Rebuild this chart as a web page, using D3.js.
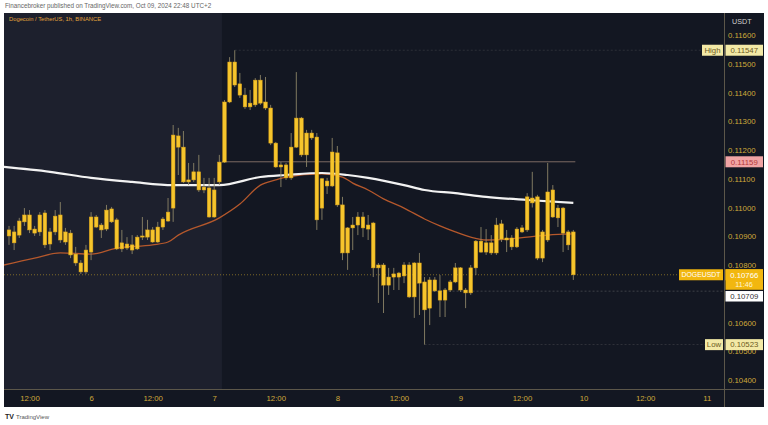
<!DOCTYPE html>
<html><head><meta charset="utf-8">
<script src="https://cdn.jsdelivr.net/npm/d3@7"></script>
<style>
html,body{margin:0;padding:0;background:#fff;}
svg{display:block;font-family:"Liberation Sans",Arial,sans-serif;}
</style></head><body>
<svg id="c" width="768" height="425"></svg>
<script>
// ---------- DATA ----------
const startTime = "2024-10-05T08:00"; // first hourly candle (UTC+2)
const openP = [0.10901,0.10915,0.10904,0.10950,0.10974,0.10925,0.10915,0.10981,0.10873,0.10915,
0.10974,0.10880,0.10911,0.10838,0.10807,0.10776,0.10845,0.10967,0.10939,0.10925,
0.10995,0.10957,0.10856,0.10873,0.10870,0.10856,0.10897,0.10897,0.10922,0.10880,
0.10932,0.10953,0.10998,0.11249,0.11210,0.11096,0.11096,0.11124,0.11061,0.11068,
0.10967,0.11089,0.11158,0.11367,0.11506,0.11430,0.11391,0.11363,0.11357,0.11443,
0.11367,0.11346,0.11224,0.11141,0.11148,0.11103,0.11210,0.11311,0.11183,0.11259,
0.11245,0.10998,0.11092,0.11075,0.11190,0.11009,0.10842,0.10929,0.10939,0.10967,
0.10925,0.10946,0.10790,0.10800,0.10730,0.10758,0.10758,0.10762,0.10800,0.10689,
0.10807,0.10741,0.10650,0.10748,0.10710,0.10678,0.10713,0.10741,0.10790,0.10713,
0.10703,0.10790,0.10883,0.10845,0.10877,0.10842,0.10943,0.10894,0.10894,0.10863,
0.10915,0.10922,0.11033,0.11037,0.10824,0.10887,0.11061,0.10964,0.10998,0.10915,
0.10915];
const highP = [0.10936,0.10936,0.10964,0.10998,0.10991,0.10936,0.10984,0.10991,0.10929,0.10991,
0.11019,0.10929,0.10922,0.10863,0.10817,0.10870,0.10984,0.10974,0.10946,0.11009,
0.11002,0.10964,0.10922,0.10897,0.10904,0.10904,0.10967,0.10957,0.10932,0.10950,
0.10967,0.11033,0.11287,0.11277,0.11266,0.11155,0.11155,0.11183,0.11103,0.11103,
0.11103,0.11183,0.11374,0.11523,0.11547,0.11468,0.11416,0.11409,0.11450,0.11461,
0.11454,0.11357,0.11228,0.11158,0.11155,0.11259,0.11471,0.11315,0.11270,0.11270,
0.11259,0.11103,0.11103,0.11242,0.11214,0.11037,0.10932,0.10967,0.10984,0.10984,
0.10974,0.10950,0.10807,0.10807,0.10790,0.10790,0.10776,0.10810,0.10810,0.10810,
0.10842,0.10758,0.10758,0.10758,0.10765,0.10720,0.10748,0.10807,0.10793,0.10720,
0.10800,0.10887,0.10932,0.10925,0.10904,0.10964,0.10957,0.10922,0.10904,0.10932,
0.10939,0.11050,0.11124,0.11044,0.10922,0.11155,0.11078,0.11009,0.11002,0.10922,
0.10922];
const lowP = [0.10870,0.10852,0.10894,0.10936,0.10911,0.10901,0.10901,0.10859,0.10852,0.10904,
0.10877,0.10870,0.10824,0.10797,0.10769,0.10769,0.10817,0.10929,0.10894,0.10918,
0.10946,0.10852,0.10845,0.10852,0.10838,0.10852,0.10887,0.10887,0.10877,0.10877,
0.10922,0.10950,0.10950,0.11113,0.11085,0.11078,0.11089,0.11054,0.11050,0.10964,
0.10964,0.11078,0.11155,0.11363,0.11419,0.11381,0.11343,0.11339,0.11350,0.11357,
0.11339,0.11217,0.11138,0.11071,0.11096,0.11096,0.11207,0.11176,0.11141,0.11235,
0.10922,0.10957,0.11047,0.11071,0.11002,0.10817,0.10783,0.10852,0.10904,0.10897,
0.10887,0.10758,0.10668,0.10633,0.10696,0.10713,0.10713,0.10737,0.10685,0.10616,
0.10626,0.10523,0.10591,0.10706,0.10619,0.10619,0.10706,0.10737,0.10706,0.10650,
0.10696,0.10765,0.10842,0.10835,0.10835,0.10835,0.10880,0.10845,0.10852,0.10859,
0.10911,0.10915,0.11000,0.10817,0.10810,0.10880,0.10964,0.10932,0.10845,0.10852,
0.10748];
const closeP = [0.10922,0.10877,0.10953,0.10974,0.10922,0.10911,0.10974,0.10870,0.10915,0.10970,
0.10887,0.10915,0.10835,0.10807,0.10776,0.10852,0.10967,0.10932,0.10922,0.10991,
0.10950,0.10856,0.10877,0.10859,0.10852,0.10897,0.10901,0.10922,0.10880,0.10932,
0.10960,0.10984,0.11252,0.11210,0.11089,0.11089,0.11124,0.11061,0.11071,0.10967,
0.11061,0.11158,0.11367,0.11506,0.11426,0.11391,0.11350,0.11350,0.11443,0.11363,
0.11346,0.11224,0.11141,0.11148,0.11103,0.11210,0.11311,0.11183,0.11259,0.11242,
0.10957,0.11100,0.11075,0.11193,0.11009,0.10842,0.10929,0.10939,0.10967,0.10929,
0.10939,0.10790,0.10800,0.10730,0.10758,0.10769,0.10772,0.10800,0.10689,0.10807,
0.10737,0.10644,0.10748,0.10710,0.10678,0.10713,0.10741,0.10790,0.10713,0.10703,
0.10790,0.10883,0.10845,0.10877,0.10842,0.10939,0.10890,0.10887,0.10863,0.10925,
0.10929,0.11037,0.11016,0.10824,0.10915,0.11054,0.10967,0.10998,0.10911,0.10870,
0.10766];

// moving averages, sampled (hours after startTime)
const maSlowHours = [-1,8,16,24,32,41,49,54,61,66,70,77,81,87,93,101,110];
const maSlow = [0.11141,0.11124,0.11103,0.11089,0.11078,0.11078,0.11106,0.11113,0.11120,0.11113,0.11103,0.11078,0.11061,0.11050,0.11037,0.11026,0.11016];
const maFastHours = [-1,5,10,16,21,28,31,33,41,45,49,52,54,61,65,67,70,73,77,81,84,87,90,93,97,101,105,110];
const maFast = [0.10800,0.10824,0.10842,0.10838,0.10859,0.10870,0.10880,0.10904,0.10964,0.11012,0.11078,0.11096,0.11106,0.11117,0.11106,0.11085,0.11061,0.11030,0.10998,0.10960,0.10936,0.10915,0.10897,0.10887,0.10890,0.10897,0.10904,0.10908];

const priceTicks = [0.116,0.115,0.114,0.113,0.112,0.111,0.110,0.109,0.108,0.106,0.105,0.104];
const timeTicks = ["2024-10-05T12:00","2024-10-06T00:00","2024-10-06T12:00","2024-10-07T00:00","2024-10-07T12:00","2024-10-08T00:00","2024-10-08T12:00","2024-10-09T00:00","2024-10-09T12:00","2024-10-10T00:00","2024-10-10T12:00","2024-10-11T00:00"];
const timeTickLabels = ["12:00","6","12:00","7","12:00","8","12:00","9","12:00","10","12:00","11"];

const highValue = 0.11547, lowValue = 0.10523, lastPrice = 0.10766, levelLine = 0.11159, prevLine = 0.10709;
const shadeEnd = "2024-10-07T01:30";
const levelStart = "2024-10-07T01:30";

// ---------- CHART ----------
const parse = d3.utcParse("%Y-%m-%dT%H:%M");
const t0 = parse(startTime);
const hourToDate = h => new Date(t0.getTime() + h*3600e3);
const svg = d3.select("#c");

const L = 4, R = 764, T = 13, B = 407, axisX = 724, axisY = 389;
const x = d3.scaleUtc().domain([t0, parse("2024-10-10T00:00")]).range([9, 583.6]);
const y = d3.scaleLinear().domain([0.104, 0.116]).range([380, 35]);

// header
svg.append("text").attr("x",5).attr("y",8).attr("font-size",6.3).attr("fill","#666")
  .text("Financebroker published on TradingView.com, Oct 09, 2024 22:48 UTC+2");

// backgrounds
svg.append("rect").attr("x",L).attr("y",T).attr("width",R-L).attr("height",B-T).attr("fill","#131722");
svg.append("rect").attr("x",L).attr("y",T).attr("width",x(parse(shadeEnd))-L).attr("height",axisY-T).attr("fill","#1d202d");

svg.append("defs").append("clipPath").attr("id","plot").append("rect")
  .attr("x",L).attr("y",T).attr("width",axisX-L).attr("height",axisY-T);
const g = svg.append("g").attr("clip-path","url(#plot)");

// legend
svg.append("text").attr("x",9).attr("y",21).attr("font-size",5.8).attr("fill","#e3a43c")
  .text("Dogecoin / TetherUS, 1h, BINANCE");

// level lines
g.append("line").attr("x1",x(parse(levelStart))).attr("x2",x(hourToDate(110))+2)
  .attr("y1",y(levelLine)).attr("y2",y(levelLine)).attr("stroke","#7d6a63").attr("stroke-width",1);
g.append("line").attr("x1",L).attr("x2",axisX).attr("y1",y(lastPrice)).attr("y2",y(lastPrice))
  .attr("stroke","#b8962a").attr("stroke-width",0.8).attr("stroke-dasharray","1,2").attr("opacity",0.8);
g.append("line").attr("x1",x(hourToDate(81))).attr("x2",axisX).attr("y1",y(prevLine)).attr("y2",y(prevLine))
  .attr("stroke","#8a8a8a").attr("stroke-width",0.6).attr("stroke-dasharray","2,2").attr("opacity",0.6);
g.append("line").attr("x1",x(hourToDate(44))).attr("x2",702).attr("y1",y(highValue)).attr("y2",y(highValue))
  .attr("stroke","#6a6a6a").attr("stroke-width",0.6).attr("stroke-dasharray","2,2").attr("opacity",0.5);
g.append("line").attr("x1",x(hourToDate(81))).attr("x2",705).attr("y1",y(lowValue)).attr("y2",y(lowValue))
  .attr("stroke","#6a6a6a").attr("stroke-width",0.6).attr("stroke-dasharray","2,2").attr("opacity",0.6);

// moving averages
const line = d3.line().x(d=>x(hourToDate(d[0]))).y(d=>y(d[1])).curve(d3.curveMonotoneX);
g.append("path").attr("d",line(d3.zip(maFastHours,maFast))).attr("fill","none")
  .attr("stroke","#b5582c").attr("stroke-width",1.3);
g.append("path").attr("d",line(d3.zip(maSlowHours,maSlow))).attr("fill","none")
  .attr("stroke","#f2f2f2").attr("stroke-width",2.2);

// candles
const candles = openP.map((o,i)=>({t:hourToDate(i),o,h:highP[i],l:lowP[i],c:closeP[i]}));
const bw = 3.6;
g.selectAll(".wick").data(candles).join("line").attr("class","wick")
  .attr("x1",d=>x(d.t)).attr("x2",d=>x(d.t)).attr("y1",d=>y(d.h)).attr("y2",d=>y(d.l))
  .attr("stroke","#8c8468").attr("stroke-width",0.9);
g.selectAll(".body").data(candles).join("rect").attr("class","body")
  .attr("x",d=>x(d.t)-bw/2).attr("width",bw)
  .attr("y",d=>y(Math.max(d.o,d.c))).attr("height",d=>Math.max(1,Math.abs(y(d.o)-y(d.c))))
  .attr("fill","#f6c52c").attr("stroke","#d9a21b").attr("stroke-width",0.5);

// axis separators
svg.append("line").attr("x1",axisX+0.5).attr("x2",axisX+0.5).attr("y1",T).attr("y2",B).attr("stroke","#5c574a").attr("stroke-width",1);
svg.append("line").attr("x1",L).attr("x2",R).attr("y1",axisY+0.5).attr("y2",axisY+0.5).attr("stroke","#5c574a").attr("stroke-width",1);

// price axis
const ya = svg.append("g").attr("transform",`translate(${axisX},0)`)
  .call(d3.axisRight(y).tickValues(priceTicks).tickFormat(d3.format(".5f")).tickSize(0).tickPadding(4));
ya.select(".domain").remove();
ya.selectAll("text").attr("fill","#cfa93a").attr("font-size",7.8).attr("font-family","Liberation Sans, Arial, sans-serif");
svg.append("text").attr("x",732).attr("y",24).attr("font-size",7.2).attr("fill","#d0d0d0").text("USDT");

// time axis
const xa = svg.append("g").attr("transform",`translate(0,${axisY})`)
  .call(d3.axisBottom(x).tickValues(timeTicks.map(parse)).tickFormat((d,i)=>timeTickLabels[i]).tickSize(0).tickPadding(6));
xa.select(".domain").remove();
xa.selectAll("text").attr("fill","#cfa93a").attr("font-size",7.8).attr("font-family","Liberation Sans, Arial, sans-serif");

// label boxes
function box(x0, x1, yc, h, bg, txt, col, fs){
  svg.append("rect").attr("x",x0).attr("y",yc-h/2).attr("width",x1-x0).attr("height",h).attr("fill",bg);
  svg.append("text").attr("x",(x0+x1)/2).attr("y",yc).attr("dy","0.35em").attr("text-anchor","middle")
    .attr("font-size",fs||7.8).attr("fill",col).text(txt);
}
box(702, 723, y(highValue), 11, "#f3e9a6", "High", "#6d5a1e");
box(725.5, 763, y(highValue), 11, "#f3e9a6", d3.format(".5f")(highValue), "#6d5a1e");
box(725.5, 763, y(levelLine), 11, "#f1a4a4", d3.format(".5f")(levelLine), "#b23a3a");
// last price
svg.append("rect").attr("x",725.5).attr("y",y(lastPrice)-5.5).attr("width",37.5).attr("height",20.5).attr("fill","#f2b70f");
box(679, 723, y(lastPrice), 11, "#f2b70f", "DOGEUSDT", "#ffffff", 6.9);
box(725.5, 763, y(lastPrice), 11, "#f2b70f", d3.format(".5f")(lastPrice), "#ffffff");
svg.append("text").attr("x",744).attr("y",y(lastPrice)+10).attr("dy","0.35em").attr("text-anchor","middle")
  .attr("font-size",7.2).attr("fill","#fff6d8").text("11:46");
box(725.5, 763, y(lastPrice)+21.5, 10.5, "#ffffff", d3.format(".5f")(prevLine), "#333333");
box(705, 723, y(lowValue), 11, "#f3e9a6", "Low", "#6d5a1e");
box(725.5, 763, y(lowValue), 11, "#f3e9a6", d3.format(".5f")(lowValue), "#6d5a1e");

// footer logo
svg.append("text").attr("x",5).attr("y",419).attr("font-size",7).attr("font-weight","bold").attr("fill","#222").text("TV");
svg.append("text").attr("x",16).attr("y",419).attr("font-size",6).attr("fill","#555").text("TradingView");
</script>
</body></html>
